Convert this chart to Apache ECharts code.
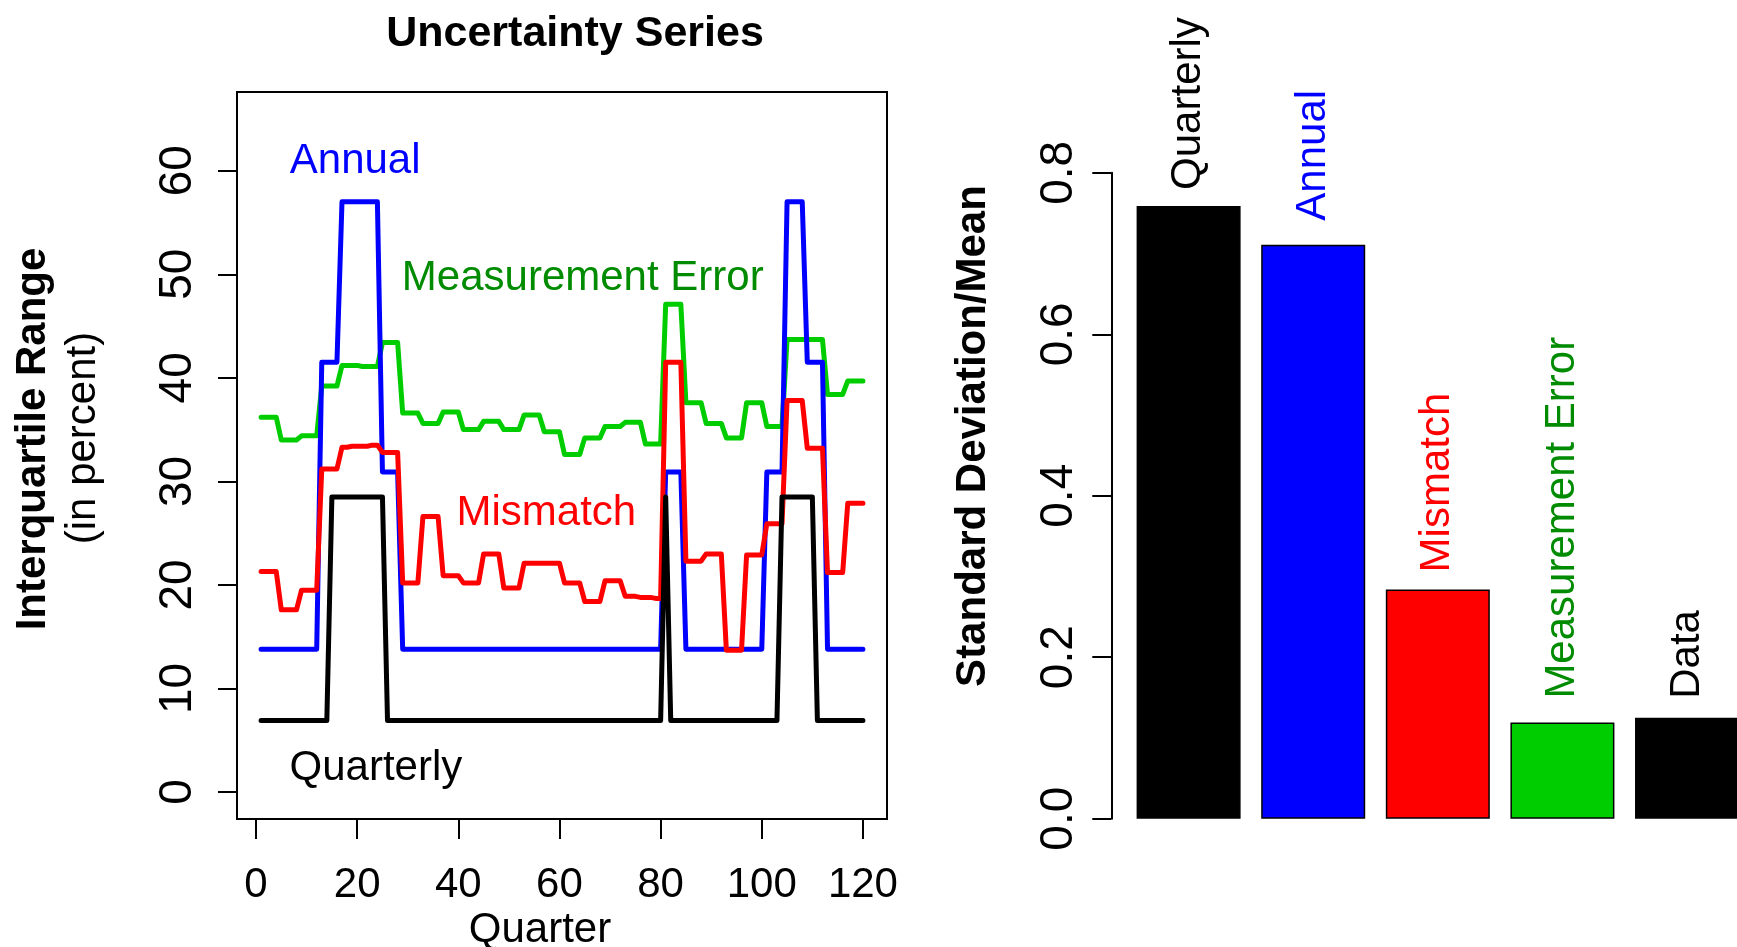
<!DOCTYPE html>
<html><head><meta charset="utf-8">
<script src="https://cdn.jsdelivr.net/npm/echarts@6/dist/echarts.min.js"></script>
<style>html,body{margin:0;padding:0;background:#fff}#c{width:1737px;height:947px}</style>
</head><body><div id="c"></div>
<script>
// ---------------- data ----------------
const quarters = [1,2,3,4,5,6,7,8,9,10,11,12,13,14,15,16,17,18,19,20,21,22,23,24,25,26,27,28,29,30,
31,32,33,34,35,36,37,38,39,40,41,42,43,44,45,46,47,48,49,50,51,52,53,54,55,56,57,58,59,60,
61,62,63,64,65,66,67,68,69,70,71,72,73,74,75,76,77,78,79,80,81,82,83,84,85,86,87,88,89,90,
91,92,93,94,95,96,97,98,99,100,101,102,103,104,105,106,107,108,109,110,111,112,113,114,115,116,117,118,119,120];

const quarterly = [6.9,6.9,6.9,6.9,6.9,6.9,6.9,6.9,6.9,6.9,6.9,6.9,6.9,6.9,
28.5,28.5,28.5,28.5,28.5,28.5,28.5,28.5,28.5,28.5,28.5,
6.9,6.9,6.9,6.9,6.9,6.9,6.9,6.9,6.9,6.9,6.9,6.9,6.9,6.9,6.9,6.9,6.9,6.9,6.9,6.9,
6.9,6.9,6.9,6.9,6.9,6.9,6.9,6.9,6.9,6.9,6.9,6.9,6.9,6.9,6.9,6.9,6.9,6.9,6.9,6.9,
6.9,6.9,6.9,6.9,6.9,6.9,6.9,6.9,6.9,6.9,6.9,6.9,6.9,6.9,6.9,
28.5,
6.9,6.9,6.9,6.9,6.9,6.9,6.9,6.9,6.9,6.9,6.9,6.9,6.9,6.9,6.9,6.9,6.9,6.9,6.9,6.9,6.9,6.9,
28.5,28.5,28.5,28.5,28.5,28.5,28.5,
6.9,6.9,6.9,6.9,6.9,6.9,6.9,6.9,6.9,6.9];

const annual = [13.8,13.8,13.8,13.8,13.8,13.8,13.8,13.8,13.8,13.8,13.8,13.8,
41.5,41.5,41.5,41.5,
57.0,57.0,57.0,57.0,57.0,57.0,57.0,57.0,
30.9,30.9,30.9,30.9,
13.8,13.8,13.8,13.8,13.8,13.8,13.8,13.8,13.8,13.8,13.8,13.8,13.8,13.8,13.8,13.8,13.8,13.8,13.8,13.8,
13.8,13.8,13.8,13.8,13.8,13.8,13.8,13.8,13.8,13.8,13.8,13.8,13.8,13.8,13.8,13.8,13.8,13.8,13.8,13.8,
13.8,13.8,13.8,13.8,13.8,13.8,13.8,13.8,13.8,13.8,13.8,13.8,
30.9,30.9,30.9,30.9,
13.8,13.8,13.8,13.8,13.8,13.8,13.8,13.8,13.8,13.8,13.8,13.8,13.8,13.8,13.8,13.8,
30.9,30.9,30.9,30.9,
57.0,57.0,57.0,57.0,
41.5,41.5,41.5,41.5,
13.8,13.8,13.8,13.8,13.8,13.8,13.8,13.8];

const mismatch = [21.3,21.3,21.3,21.3, 17.6,17.6,17.6,17.6, 19.5,19.5,19.5,19.5, 31.2,31.2,31.2,31.2,
33.3,33.3,33.4,33.4,33.4,33.4,33.5,33.5, 32.8,32.8,32.8,32.8, 20.2,20.2,20.2,20.2, 26.6,26.6,26.6,26.6,
20.9,20.9,20.9,20.9, 20.2,20.2,20.2,20.2, 23.0,23.0,23.0,23.0, 19.7,19.7,19.7,19.7,
22.1,22.1,22.1,22.1,22.1,22.1,22.1,22.1, 20.2,20.2,20.2,20.2, 18.4,18.4,18.4,18.4, 20.4,20.4,20.4,20.4,
18.9,18.9,18.9,18.8,18.8,18.8,18.7,18.7, 41.5,41.5,41.5,41.5, 22.3,22.3,22.3,22.3, 23.0,23.0,23.0,23.0,
13.7,13.7,13.7,13.7, 22.9,22.9,22.9,22.9, 25.9,25.9,25.9,25.9, 37.8,37.8,37.8,37.8,
33.2,33.2,33.2,33.2, 21.2,21.2,21.2,21.2, 27.9,27.9,27.9,27.9];

const measurementError = [36.2,36.2,36.2,36.2, 34.0,34.0,34.0,34.0, 34.4,34.4,34.4,34.4, 39.2,39.2,39.2,39.2,
41.2,41.2,41.2,41.2,41.1,41.1,41.1,41.1, 43.4,43.4,43.4,43.4, 36.6,36.6,36.6,36.6, 35.6,35.6,35.6,35.6,
36.7,36.7,36.7,36.7, 35.0,35.0,35.0,35.0, 35.8,35.8,35.8,35.8, 35.0,35.0,35.0,35.0,
36.4,36.4,36.4,36.4, 34.8,34.8,34.8,34.8, 32.6,32.6,32.6,32.6, 34.2,34.2,34.2,34.2,
35.3,35.3,35.3,35.3, 35.7,35.7,35.7,35.7, 33.6,33.6,33.6,33.6, 47.1,47.1,47.1,47.1,
37.6,37.6,37.6,37.6, 35.6,35.6,35.6,35.6, 34.2,34.2,34.2,34.2, 37.6,37.6,37.6,37.6,
35.3,35.3,35.3,35.3, 43.7,43.7,43.7,43.7,43.7,43.7,43.7,43.7, 38.4,38.4,38.4,38.4, 39.7,39.7,39.7,39.7];

const xTicks = [0, 20, 40, 60, 80, 100, 120];
const yTicks = [0, 10, 20, 30, 40, 50, 60];

const barCategories = ['Quarterly', 'Annual', 'Mismatch', 'Measurement Error', 'Data'];
const barValues = [0.759, 0.711, 0.284, 0.119, 0.125];
const barPositions = [1, 2, 3, 4, 5];

// annotation anchors (data units) for the left panel
const lineLabels = [
  {text: 'Annual', q: 19.6, v: 60.9},
  {text: 'Measurement Error', q: 64.6, v: 49.6},
  {text: 'Mismatch', q: 57.4, v: 26.9},
  {text: 'Quarterly', q: 23.7, v: 2.3}
];

// ---------------- styles ----------------
const FONT = "'Liberation Sans', Arial, Helvetica, sans-serif";
const barColors = ['#000000', '#0000FF', '#FF0000', '#00CD00', '#000000'];
const barLabelColors = ['#000000', '#0000FF', '#FF0000', '#008B00', '#000000'];
const barLabelDist = [16, 24, 17, 24, 19];
const lineLabelColors = ['#0000FF', '#008B00', '#FF0000', '#000000'];

function pairs(ys) { return quarters.map((q, i) => [q, ys[i]]); }

const chart = echarts.init(document.getElementById('c'), null, {renderer: 'canvas'});

const option = {
  animation: false,
  backgroundColor: '#ffffff',
  textStyle: {fontFamily: FONT},
  title: {
    text: 'Uncertainty Series', left: 570, top: 8, textAlign: 'center',
    textStyle: {fontFamily: FONT, fontWeight: 'bold', fontSize: 43, color: '#000'}
  },
  grid: [
    {left: 237, top: 92, width: 650, height: 727, show: true, borderColor: '#000', borderWidth: 2, backgroundColor: 'transparent', containLabel: false},
    {left: 1126.3, top: 172.8, right: 0, height: 645.9, containLabel: false}
  ],
  xAxis: [
    {
      type: 'value', gridIndex: 0, min: -3.76, max: 124.76,
      axisLine: {show: false, onZero: false},
      splitLine: {show: false},
      axisTick: {show: true, inside: false, length: 20, customValues: xTicks, lineStyle: {color: '#000', width: 2}},
      axisLabel: {show: true, customValues: xTicks, margin: 45, fontSize: 42, lineHeight: 42, fontFamily: FONT, color: '#000'}
    },
    {
      type: 'value', gridIndex: 1, min: 0.5, max: 5.401,
      axisLine: {show: false, onZero: false}, axisTick: {show: false}, axisLabel: {show: false}, splitLine: {show: false}
    }
  ],
  yAxis: [
    {
      type: 'value', gridIndex: 0, min: -2.6, max: 67.6,
      axisLine: {show: false, onZero: false},
      splitLine: {show: false},
      axisTick: {show: true, inside: false, length: 19, customValues: yTicks, lineStyle: {color: '#000', width: 2}},
      axisLabel: {show: true, customValues: yTicks, rotate: 90, margin: 36, fontSize: 46, lineHeight: 46, fontFamily: FONT, color: '#000'}
    },
    {
      type: 'value', gridIndex: 1, min: 0, max: 0.8, interval: 0.2, offset: 15,
      axisLine: {show: true, onZero: false, lineStyle: {color: '#000', width: 2}},
      splitLine: {show: false},
      axisTick: {show: true, inside: false, length: 19, lineStyle: {color: '#000', width: 2}},
      axisLabel: {show: true, rotate: 90, margin: 29, fontSize: 46, lineHeight: 46, fontFamily: FONT, color: '#000',
        formatter: v => v.toFixed(1)}
    }
  ],
  series: [
    {type: 'line', name: 'Measurement Error', xAxisIndex: 0, yAxisIndex: 0, data: pairs(measurementError), showSymbol: false,
     lineStyle: {color: '#00CD00', width: 5, cap: 'round', join: 'round'}},
    {type: 'line', name: 'Annual', xAxisIndex: 0, yAxisIndex: 0, data: pairs(annual), showSymbol: false,
     lineStyle: {color: '#0000FF', width: 5, cap: 'round', join: 'round'}},
    {type: 'line', name: 'Mismatch', xAxisIndex: 0, yAxisIndex: 0, data: pairs(mismatch), showSymbol: false,
     lineStyle: {color: '#FF0000', width: 5, cap: 'round', join: 'round'}},
    {type: 'line', name: 'Quarterly', xAxisIndex: 0, yAxisIndex: 0, data: pairs(quarterly), showSymbol: false,
     lineStyle: {color: '#000000', width: 5, cap: 'round', join: 'round'}},
    {
      type: 'bar', name: 'Standard Deviation/Mean', xAxisIndex: 1, yAxisIndex: 1, barWidth: 104, clip: true,
      data: barValues.map((v, i) => ({
        name: barCategories[i],
        value: [barPositions[i], v],
        itemStyle: {color: barColors[i], borderColor: '#000', borderWidth: 1.5},
        label: {color: barLabelColors[i], distance: barLabelDist[i]}
      })),
      label: {
        show: true, position: 'top', rotate: 90, align: 'left', verticalAlign: 'middle',
        formatter: '{b}', fontSize: 42, fontFamily: FONT
      }
    }
  ]
};

chart.setOption(option);

const graphics = [];
lineLabels.forEach((l, i) => {
  const p = chart.convertToPixel({gridIndex: 0}, [l.q, l.v]);
  graphics.push({type: 'text', x: p[0], y: p[1], silent: true,
    style: {text: l.text, fill: lineLabelColors[i], font: '42px ' + FONT, textAlign: 'center', textVerticalAlign: 'middle'}});
});
graphics.push({type: 'text', x: 33, y: 439, rotation: Math.PI / 2, silent: true,
  style: {text: 'Interquartile Range', fill: '#000', font: 'bold 42px ' + FONT, textAlign: 'center', textVerticalAlign: 'middle'}});
graphics.push({type: 'text', x: 83, y: 438, rotation: Math.PI / 2, silent: true,
  style: {text: '(in percent)', fill: '#000', font: '42px ' + FONT, textAlign: 'center', textVerticalAlign: 'middle'}});
graphics.push({type: 'text', x: 540, y: 930, silent: true,
  style: {text: 'Quarter', fill: '#000', font: '42px ' + FONT, textAlign: 'center', textVerticalAlign: 'middle'}});
graphics.push({type: 'text', x: 973, y: 436, rotation: Math.PI / 2, silent: true,
  style: {text: 'Standard Deviation/Mean', fill: '#000', font: 'bold 42px ' + FONT, textAlign: 'center', textVerticalAlign: 'middle'}});

chart.setOption({graphic: graphics});
</script>
</body></html>
